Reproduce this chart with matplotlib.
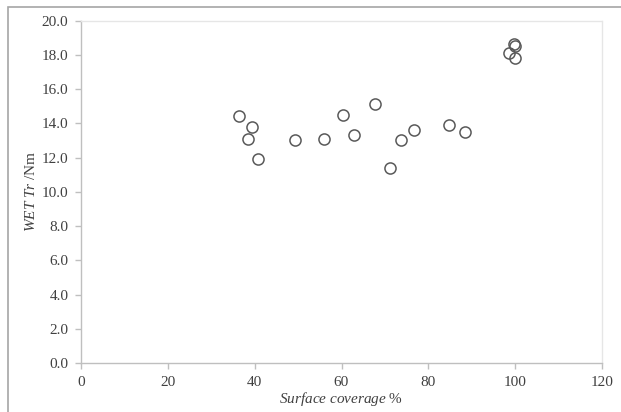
import matplotlib
matplotlib.use("Agg")
import matplotlib.pyplot as plt
from matplotlib.patches import Rectangle

# surface coverage (%) and WET Tr (Nm)
coverage = [36.4, 39.4, 38.5, 40.8, 49.3, 56.0, 60.3, 62.9, 67.7, 71.2,
            73.7, 76.7, 84.8, 88.4, 98.6, 99.7, 100.0, 100.0]
wet_tr = [14.4, 13.8, 13.1, 11.9, 13.0, 13.1, 14.5, 13.3, 15.1, 11.4,
          13.0, 13.6, 13.9, 13.5, 18.1, 18.6, 18.5, 17.8]

xticks = [0, 20, 40, 60, 80, 100, 120]
yticks = [0, 2, 4, 6, 8, 10, 12, 14, 16, 18, 20]

plt.rcParams['font.family'] = ['Liberation Serif', 'DejaVu Serif']
plt.rcParams['mathtext.fontset'] = 'custom'
plt.rcParams['mathtext.rm'] = 'Liberation Serif'
plt.rcParams['mathtext.it'] = 'Liberation Serif:italic'

fig = plt.figure(figsize=(6.21, 4.12), dpi=100)
ax = fig.add_axes([81 / 621, 1 - 363 / 412, (602 - 81) / 621, (363 - 20.5) / 412])

ax.plot(coverage, wet_tr, linestyle='none', marker='o', markersize=8,
        markerfacecolor='none', markeredgecolor='#595959', markeredgewidth=1.1)

ax.set_xlim(0, 120)
ax.set_ylim(0, 20)
ax.set_xticks(xticks)
ax.set_yticks(yticks)
ax.set_yticklabels(['%.1f' % v for v in yticks])

for s in ['left', 'bottom']:
    ax.spines[s].set_color('#bfbfbf')
    ax.spines[s].set_linewidth(1.0)
for s in ['top', 'right']:
    ax.spines[s].set_color('#e6e6e6')
    ax.spines[s].set_linestyle((0, (1, 1)))
    ax.spines[s].set_linewidth(1.0)

ax.tick_params(axis='both', direction='out', length=4, width=1, color='#bfbfbf',
               labelcolor='#404040', labelsize=11)
ax.tick_params(axis='y', pad=5)
ax.tick_params(axis='x', pad=5)

ax.set_xlabel(r'$Surface\ coverage$ %', fontsize=11, color='#404040', labelpad=1)
ax.set_ylabel(r'$WET\ Tr$ /Nm', fontsize=11, color='#404040', labelpad=3)

# chart-area frame
fig.patches.append(Rectangle((7.5 / 621, -0.1), 1.2, 1 - 6.5 / 412 + 0.1,
                             transform=fig.transFigure, fill=False,
                             edgecolor='#a6a6a6', linewidth=1.2, clip_on=False))

fig.savefig('out.png', dpi=100)
